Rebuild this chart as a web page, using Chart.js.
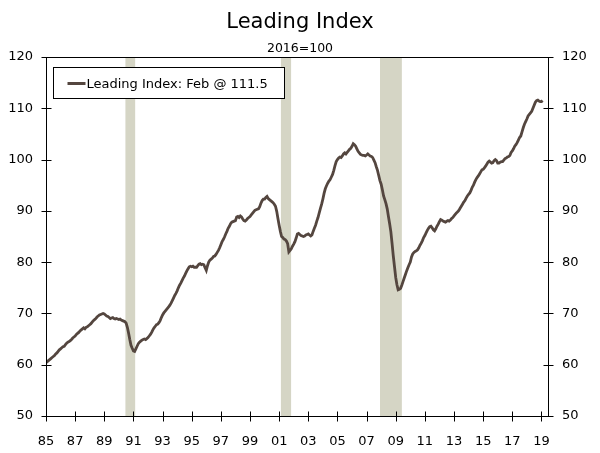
<!DOCTYPE html>
<html>
<head>
<meta charset="utf-8">
<title>Leading Index</title>
<script src="https://cdn.jsdelivr.net/npm/chart.js@4.4.1/dist/chart.umd.min.js"></script>
<style>
  html, body { margin: 0; padding: 0; background: #fff; }
  #wrap { width: 600px; height: 453px; }
</style>
</head>
<body>
<div id="wrap"><canvas id="lei" width="600" height="453"></canvas></div>
<script>
// Monthly values, Jan 1985 - Feb 2019 (2016=100), one row per year
const startYear = 1985;
const leadingIndex = [
  60.4, 60.6, 60.8, 61.0, 61.2, 61.4, 61.6, 61.8, 62.1, 62.3, 62.6, 62.9,
  63.1, 63.3, 63.5, 63.6, 63.9, 64.2, 64.4, 64.5, 64.7, 64.9, 65.2, 65.4,
  65.6, 65.9, 66.1, 66.3, 66.6, 66.8, 67.0, 67.2, 67.0, 67.3, 67.4, 67.6,
  67.8, 68.0, 68.3, 68.6, 68.8, 69.0, 69.3, 69.5, 69.7, 69.8, 69.9, 70.0,
  69.9, 69.7, 69.5, 69.4, 69.2, 69.0, 69.1, 69.2, 69.0, 68.9, 69.0, 68.9,
  68.8, 68.9, 68.7, 68.6, 68.5, 68.4, 68.1, 67.3, 66.2, 64.9, 63.8, 63.2,
  62.7, 62.6, 63.1, 63.6, 64.1, 64.4, 64.6, 64.8, 64.9, 65.0, 64.9, 65.1,
  65.3, 65.6, 65.9, 66.3, 66.8, 67.2, 67.5, 67.8, 67.9, 68.2, 68.6, 69.2,
  69.7, 70.1, 70.4, 70.7, 71.0, 71.3, 71.6, 72.0, 72.5, 73.0, 73.5, 73.9,
  74.4, 75.0, 75.5, 75.9, 76.4, 76.9, 77.3, 77.8, 78.3, 78.7, 79.1, 79.2,
  79.1, 79.2, 79.0, 79.0, 79.0, 79.3, 79.6, 79.7, 79.5, 79.6, 79.5, 78.9,
  78.4, 79.3, 80.0, 80.4, 80.6, 80.8, 81.1, 81.2, 81.5, 81.9, 82.3, 82.8,
  83.4, 84.0, 84.4, 84.9, 85.5, 86.0, 86.6, 87.0, 87.5, 87.8, 87.9, 88.0,
  88.1, 88.8, 88.9, 88.7, 89.0, 88.8, 88.4, 88.1, 88.0, 88.2, 88.5, 88.7,
  88.9, 89.2, 89.5, 89.8, 90.1, 90.2, 90.3, 90.4, 90.8, 91.5, 92.0, 92.3,
  92.3, 92.6, 92.8, 92.4, 92.2, 92.0, 91.8, 91.6, 91.3, 90.9, 89.9, 88.5,
  87.2, 86.0, 85.0, 84.8, 84.5, 84.4, 84.1, 83.6, 82.0, 82.3, 82.6, 83.1,
  83.5, 84.0, 84.7, 85.5, 85.6, 85.4, 85.2, 85.1, 85.0, 85.1, 85.3, 85.4,
  85.5, 85.3, 85.1, 85.3, 86.0, 86.6, 87.2, 88.0, 88.7, 89.6, 90.5, 91.3,
  92.3, 93.4, 94.3, 94.9, 95.4, 95.8, 96.1, 96.6, 97.1, 97.9, 98.8, 99.6,
  100.0, 100.3, 100.5, 100.4, 100.7, 101.1, 101.3, 101.1, 101.4, 101.7, 102.0, 102.2,
  102.6, 103.1, 102.9, 102.6, 102.1, 101.6, 101.3, 101.0, 100.9, 100.8, 100.8, 100.7,
  100.9, 101.1, 100.9, 100.7, 100.6, 100.4, 99.9, 99.4, 98.6, 97.9, 96.9, 95.9,
  95.2, 94.1, 92.9, 92.2, 91.4, 90.4, 88.9, 87.5, 85.9, 83.6, 81.2, 79.1,
  77.0, 75.6, 74.6, 74.7, 74.9, 75.5, 76.2, 76.9, 77.6, 78.3, 78.9, 79.5,
  80.0, 81.0, 81.6, 81.9, 82.1, 82.2, 82.4, 82.8, 83.3, 83.7, 84.2, 84.8,
  85.2, 85.7, 86.2, 86.6, 86.9, 87.0, 86.7, 86.3, 86.1, 86.5, 87.0, 87.4,
  87.9, 88.3, 88.2, 88.0, 87.9, 87.8, 88.0, 88.1, 88.0, 88.2, 88.5, 88.7,
  89.0, 89.3, 89.6, 89.8, 90.1, 90.5, 90.9, 91.3, 91.7, 92.0, 92.5, 92.9,
  93.2, 93.5, 94.0, 94.6, 95.0, 95.6, 96.1, 96.5, 96.8, 97.2, 97.6, 98.0,
  98.1, 98.4, 98.7, 99.1, 99.5, 99.7, 99.5, 99.3, 99.4, 99.8, 100.0, 99.8,
  99.3, 99.3, 99.5, 99.6, 99.6, 99.9, 100.2, 100.3, 100.5, 100.6, 100.8, 101.4,
  101.7, 102.1, 102.6, 102.9, 103.3, 103.8, 104.3, 104.6, 105.4, 106.2, 106.9, 107.4,
  107.9, 108.5, 108.8, 109.1, 109.4, 110.0, 110.6, 111.2, 111.5, 111.6, 111.4, 111.3,
  111.3, 111.5
];
const seriesLabel = "Leading Index: Feb @ 111.5";

// recessions (decimal years)
const recessionStart = [1990.45, 2001.12, 2007.92];
const recessionEnd = [1991.12, 2001.82, 2009.42];

const xTickYears = [1985, 1987, 1989, 1991, 1993, 1995, 1997, 1999, 2001, 2003, 2005, 2007, 2009, 2011, 2013, 2015, 2017, 2019];
const yTicks = [50, 60, 70, 80, 90, 100, 110, 120];

const FONT = "'DejaVu Sans', Verdana, sans-serif";
const lineColor = "#54463f";
const bandColor = "#d5d5c5";

// shaded recession bars behind the line
const recessionBands = {
  id: "recessionBands",
  beforeDatasetsDraw(chart) {
    const { ctx, chartArea, scales: { x } } = chart;
    ctx.save();
    ctx.fillStyle = bandColor;
    recessionStart.forEach((s, i) => {
      const x0 = x.getPixelForValue(s);
      const x1 = x.getPixelForValue(recessionEnd[i]);
      ctx.fillRect(x0, chartArea.top, x1 - x0, chartArea.bottom - chartArea.top);
    });
    ctx.restore();
  }
};

// box frame, ticks crossing the axes, and the boxed legend
const frameAndLegend = {
  id: "frameAndLegend",
  afterDraw(chart) {
    const { ctx, chartArea: a, scales } = chart;
    ctx.save();
    ctx.strokeStyle = "#000";
    ctx.lineWidth = 1;
    const L = Math.round(a.left) + 0.5, R = Math.round(a.right) + 0.5;
    const T = Math.round(a.top) + 0.5, B = Math.round(a.bottom) + 0.5;
    ctx.strokeRect(L, T, R - L, B - T);

    ctx.beginPath();
    scales.x.ticks.forEach(t => {
      const px = Math.round(scales.x.getPixelForValue(t.value)) + 0.5;
      ctx.moveTo(px, B - 5); ctx.lineTo(px, B + 5);
    });
    [["y", L], ["y2", R]].forEach(([id, ax]) => {
      scales[id].ticks.forEach(t => {
        const py = Math.round(scales[id].getPixelForValue(t.value)) + 0.5;
        ctx.moveTo(ax - 5, py); ctx.lineTo(ax + 5, py);
      });
    });
    ctx.stroke();

    // legend
    const bx = L + 7, by = T + 10, bw = 231, bh = 31;
    ctx.fillStyle = "#fff";
    ctx.fillRect(bx, by, bw, bh);
    ctx.strokeRect(bx, by, bw, bh);
    ctx.strokeStyle = lineColor;
    ctx.lineWidth = 3;
    ctx.beginPath();
    ctx.moveTo(bx + 14, by + 16);
    ctx.lineTo(bx + 32, by + 16);
    ctx.stroke();
    ctx.fillStyle = "#000";
    ctx.font = "13px " + FONT;
    ctx.textBaseline = "alphabetic";
    ctx.fillText(chart.data.datasets[0].label, bx + 33, by + 20);
    ctx.restore();
  }
};

const tickFont = { family: FONT, size: 13 };

new Chart(document.getElementById("lei"), {
  type: "line",
  data: {
    datasets: [{
      label: seriesLabel,
      data: leadingIndex.map((v, i) => ({ x: startYear + i / 12, y: v })),
      borderColor: lineColor,
      borderWidth: 2.8,
      pointRadius: 0,
      tension: 0,
      yAxisID: "y"
    }]
  },
  options: {
    responsive: false,
    animation: false,
    layout: { padding: 0 },
    plugins: {
      legend: { display: false },
      tooltip: { enabled: false },
      title: {
        display: true,
        text: "Leading Index",
        color: "#000",
        font: { family: FONT, size: 21, weight: "normal" },
        padding: { top: 10, bottom: 5 }
      },
      subtitle: {
        display: true,
        text: "2016=100",
        color: "#000",
        font: { family: FONT, size: 12.5, weight: "normal" },
        padding: { top: 1, bottom: 0.8 }
      }
    },
    scales: {
      x: {
        type: "linear",
        min: 1985,
        max: 2019.45,
        grid: { display: false, drawTicks: false },
        border: { display: false },
        afterBuildTicks: s => { s.ticks = xTickYears.map(v => ({ value: v })); },
        ticks: {
          callback: v => String(Math.round(v) % 100).padStart(2, "0"),
          font: tickFont, color: "#000", padding: 18, maxRotation: 0, autoSkip: false
        },
        afterFit: s => { s.height = 37; }
      },
      y: {
        position: "left",
        min: 50, max: 120,
        grid: { display: false, drawTicks: false },
        border: { display: false },
        afterBuildTicks: s => { s.ticks = yTicks.map(v => ({ value: v })); },
        ticks: { font: tickFont, color: "#000", padding: 13 },
        afterFit: s => { s.width = 46; }
      },
      y2: {
        position: "right",
        display: true,
        min: 50, max: 120,
        grid: { display: false, drawTicks: false },
        border: { display: false },
        afterBuildTicks: s => { s.ticks = yTicks.map(v => ({ value: v })); },
        ticks: { font: tickFont, color: "#000", padding: 14 },
        afterFit: s => { s.width = 52; }
      }
    }
  },
  plugins: [recessionBands, frameAndLegend]
});
</script>
</body>
</html>
